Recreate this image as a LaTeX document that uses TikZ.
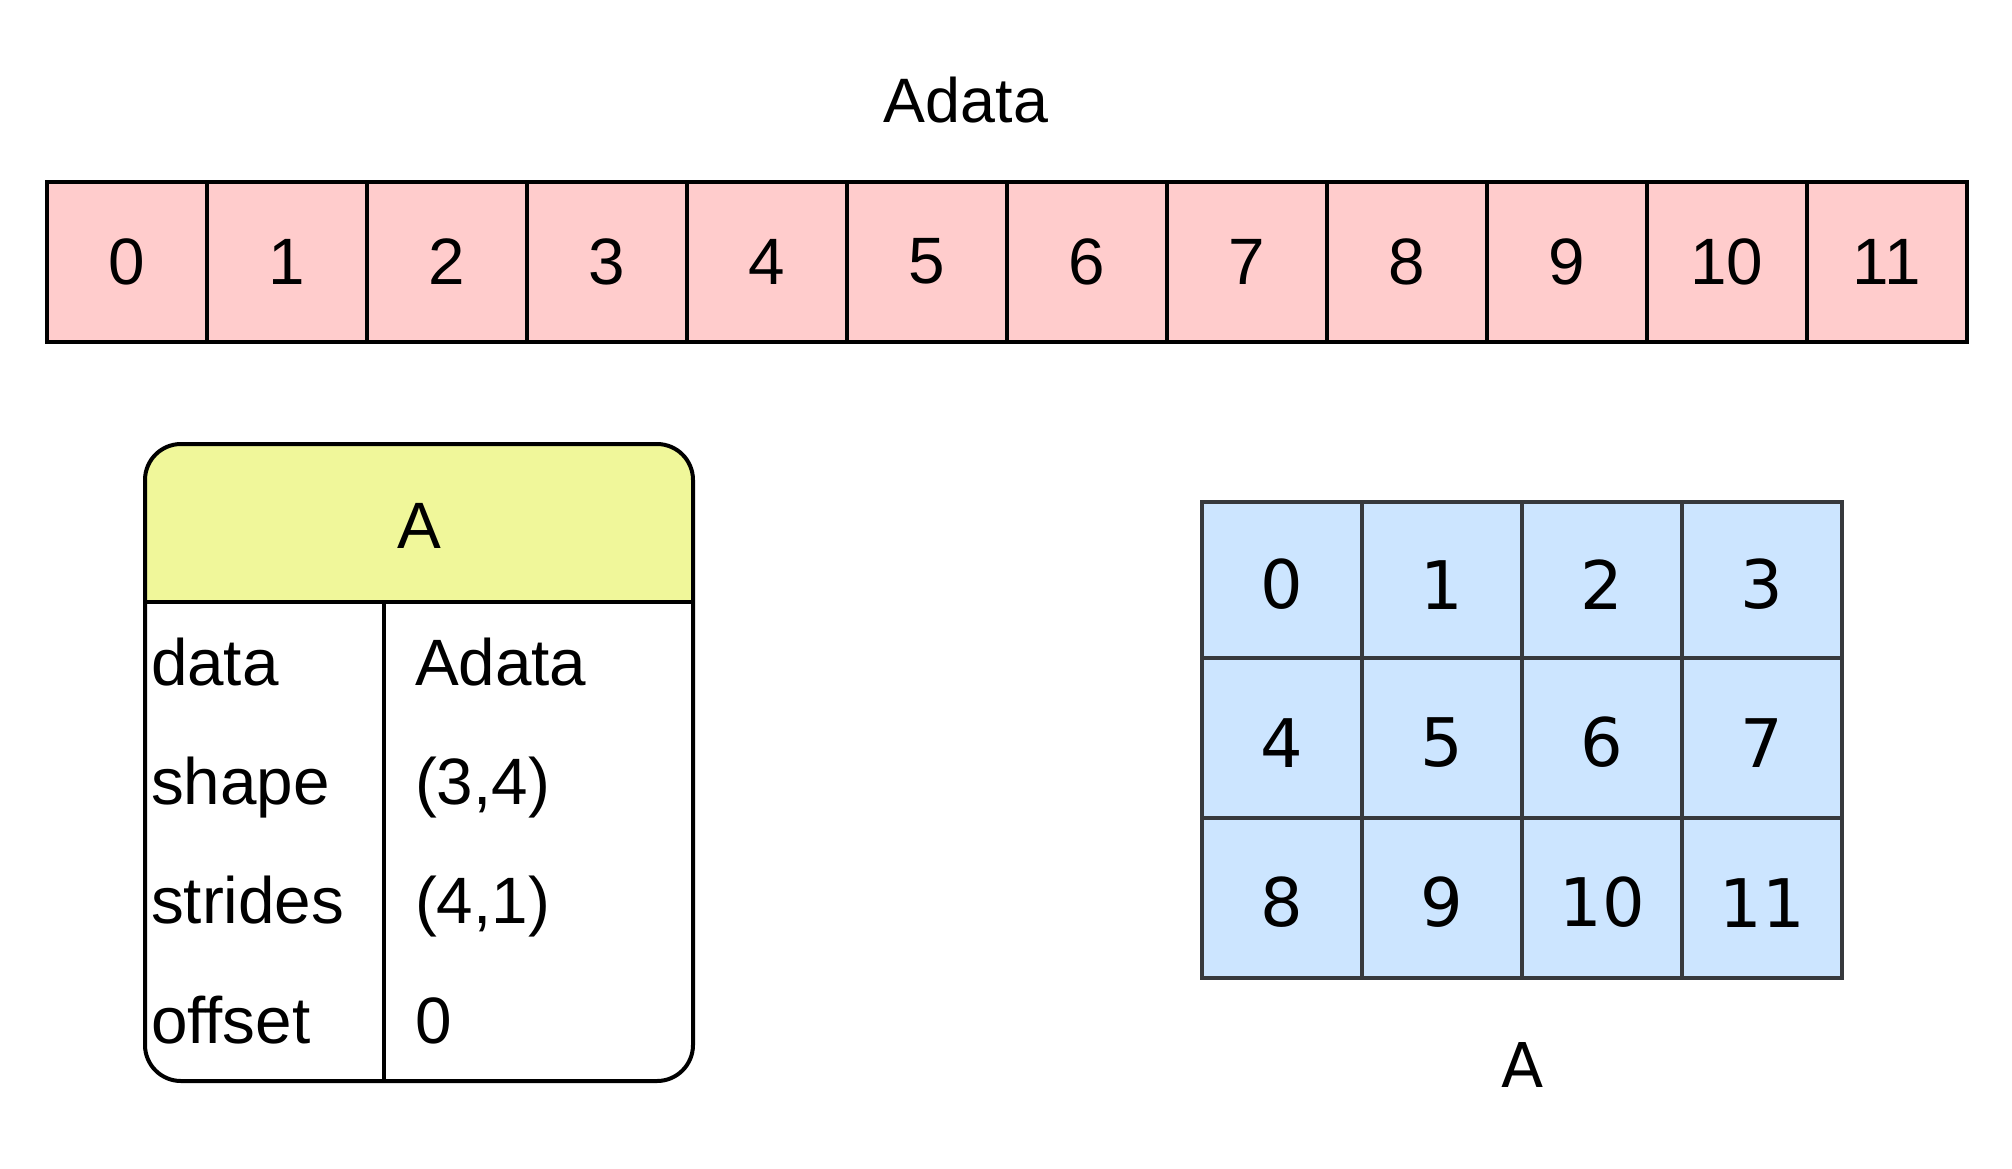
\documentclass[tikz,border=0pt]{standalone}
\usepackage{fontspec}
\setmainfont{Liberation Sans}
\newfontfamily\dejavu{DejaVu Sans}
\usetikzlibrary{positioning}
\definecolor{cellpink}{HTML}{FFCCCC}
\definecolor{cellblue}{HTML}{CCE5FF}
\definecolor{gridgray}{HTML}{36393D}
\definecolor{headyellow}{HTML}{F0F79A}
\begin{document}
\begin{tikzpicture}[x=1pt,y=-1pt,line width=4pt,inner sep=0pt,outer sep=0pt]
	\tikzset{cell/.style={minimum width=160pt,minimum height=160pt,font=\fontsize{65.6pt}{78pt}\selectfont},
		pinkcell/.style={cell,draw=black,fill=cellpink},
		bluecell/.style={cell,draw=gridgray,fill=cellblue,text height=58.8pt,font=\dejavu\fontsize{67pt}{80pt}\selectfont},
		field/.style={anchor=base west,font=\fontsize{65.6pt}{78pt}\selectfont}}
	\useasboundingbox (0,0) rectangle (2012,1168);
	% flat buffer
	\node[font=\fontsize{62.8pt}{75pt}\selectfont] (title) at (966,100) {Adata};
	\node[pinkcell] (a0) at (126.5,261.5) {0};
	\foreach \i [count=\j from 0] in {1,...,11}
		\node[pinkcell,right=0pt of a\j] (a\i) {\i};
	% array header
	\fill[headyellow,rounded corners=36pt] (145,444) rectangle (693,602);
	\fill[headyellow] (145,560) rectangle (693,602);
	\node[draw,rounded corners=36pt,minimum width=548pt,minimum height=637pt] (Abox) at (419,762.5) {};
	\coordinate (hl) at (Abox.west |- 0,602);
	\coordinate (split) at (384,602);
	\draw (hl) -- (hl -| Abox.east);
	\draw (split) -- (split |- Abox.south);
	\node[anchor=base,font=\fontsize{65.6pt}{78pt}\selectfont] (Ahead) at (419,548) {A};
	\foreach \k/\v/\y in {data/Adata/685,shape/{(3,4)}/804,strides/{(4,1)}/923,offset/0/1043}{
		\node[field] (\k) at (151,\y) {\k};
		\node[field] (\k-val) at (415,\y) {\v};
	}
	% logical view
	\foreach \r/\y/\h in {0/580/156,1/738/160,2/898/160}
		\foreach \c in {0,...,3}{
			\pgfmathtruncatemacro\n{4*\r+\c}
			\node[bluecell,minimum height=\h pt] (b\n) at (1282+160*\c,\y) {\n};
		}
	\node[anchor=base,font=\dejavu\fontsize{61.7pt}{74pt}\selectfont] (Alabel) at (1523,1087) {A};
\end{tikzpicture}
\end{document}
